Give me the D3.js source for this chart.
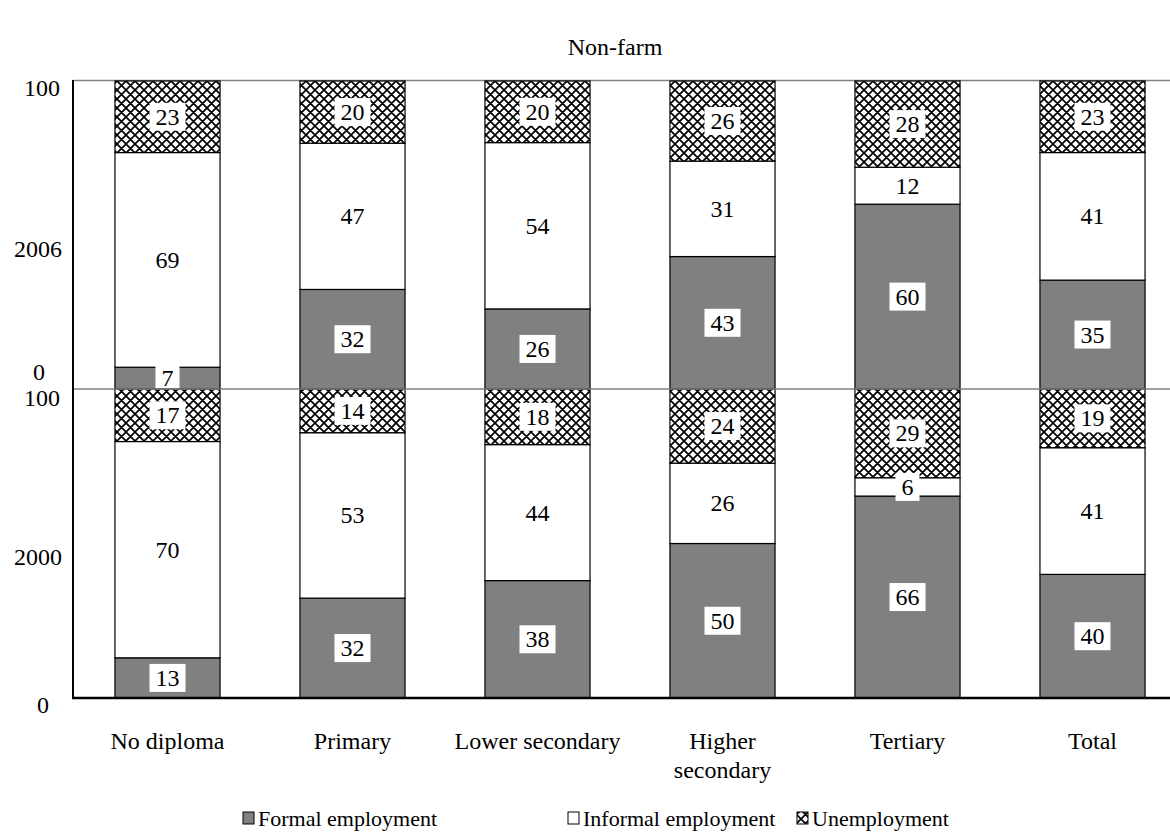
<!DOCTYPE html>
<html><head><meta charset="utf-8">
<script src="https://cdn.jsdelivr.net/npm/d3@7"></script>
<style>body{margin:0;background:#fff}svg{display:block}svg text{font-family:"Liberation Serif","Tinos","DejaVu Serif","Times New Roman",serif}</style>
</head><body><svg id="c" width="1170" height="832"></svg>
<script>
const categories = ["No diploma","Primary","Lower secondary","Higher secondary","Tertiary","Total"];
const years = ["2006","2000"];
const formal2006 = [7,32,26,43,60,35];
const informal2006 = [69,47,54,31,12,41];
const unemp2006 = [23,20,20,26,28,23];
const formal2000 = [13,32,38,50,66,40];
const informal2000 = [70,53,44,26,6,41];
const unemp2000 = [17,14,18,24,29,19];
const seriesNames = ["Formal employment","Informal employment","Unemployment"];
const yTicks = ["100","0"];

const FS = 24;
const svg = d3.select("#c");
const defs = svg.append("defs");
const pat = defs.append("pattern").attr("id","hatch").attr("patternUnits","userSpaceOnUse")
  .attr("width",9).attr("height",9);
pat.append("rect").attr("width",9).attr("height",9).attr("fill","#fff");
pat.append("path").attr("d","M-1,1 L1,-1 M0,9 L9,0 M8,10 L10,8 M-1,8 L1,10 M0,0 L9,9 M8,-1 L10,1")
  .attr("stroke","#000").attr("stroke-width",1.7);

const x = d3.scaleBand().domain(categories).range([75,1185]).paddingInner(0.432).paddingOuter(0.216);
const panels = [
  {year:years[0], data:[formal2006,informal2006,unemp2006], y:d3.scaleLinear().domain([0,100]).range([389,81])},
  {year:years[1], data:[formal2000,informal2000,unemp2000], y:d3.scaleLinear().domain([0,100]).range([698,389])}
];
const fills = ["#808080","#ffffff","url(#hatch)"];

svg.append("line").attr("x1",73).attr("x2",1170).attr("y1",80.5).attr("y2",80.5).attr("stroke","#808080").attr("stroke-width",1.5);

panels.forEach((p,pi)=>{
  const rows = categories.map((c,i)=>{
    const vals = p.data.map(s=>s[i]);
    const tot = d3.sum(vals);
    let acc=0;
    return vals.map((v,k)=>{const y0=acc/tot*100; acc+=v; return {c,k,v,y0,y1:acc/tot*100};});
  });
  const g = svg.append("g");
  rows.forEach(r=>{
    g.selectAll(null).data(r).enter().append("rect")
      .attr("x",d=>x(d.c)).attr("width",x.bandwidth())
      .attr("y",d=>p.y(d.y1)).attr("height",d=>p.y(d.y0)-p.y(d.y1))
      .attr("fill",d=>fills[d.k]).attr("stroke","#000").attr("stroke-width",1.2);
  });
  rows.forEach(r=>{
    r.forEach(d=>{
      const cx = x(d.c)+x.bandwidth()/2;
      const cy = (p.y(d.y0)+p.y(d.y1))/2;
      const t = g.append("text").attr("x",cx).attr("y",cy+8).attr("text-anchor","middle")
        .attr("font-size",FS).text(d.v);
      const bb = t.node().getBBox();
      g.insert("rect", function(){return t.node();}).attr("x",bb.x-6).attr("y",cy-14).attr("width",bb.width+12).attr("height",28).attr("fill","#fff");
    });
  });
  const yl = svg.append("g").attr("font-size",FS).attr("text-anchor","middle");
  yl.append("text").attr("x",42).attr("y",p.y(100)+(pi===0?15:17)).text(yTicks[0]);
  yl.append("text").attr("x",pi===0?39:43).attr("y",p.y(0)+(pi===0?-9:15)).text(yTicks[1]);
  yl.append("text").attr("x",38).attr("y",(p.y(0)+p.y(100))/2+(pi===0?22:21)).text(p.year);
});

svg.append("line").attr("x1",73).attr("x2",1170).attr("y1",389).attr("y2",389).attr("stroke","#808080").attr("stroke-width",1.5);
svg.append("line").attr("x1",73).attr("x2",73).attr("y1",80).attr("y2",699).attr("stroke","#000").attr("stroke-width",2);
svg.append("line").attr("x1",72).attr("x2",1170).attr("y1",698).attr("y2",698).attr("stroke","#000").attr("stroke-width",2.5);

const xl = svg.append("g").attr("font-size",FS).attr("text-anchor","middle");
categories.forEach(c=>{
  const words = c==="Higher secondary" ? ["Higher","secondary"] : [c];
  words.forEach((w,i)=>{
    xl.append("text").attr("x",x(c)+x.bandwidth()/2).attr("y",749+i*29).text(w);
  });
});

svg.append("text").attr("x",615).attr("y",55).attr("text-anchor","middle").attr("font-size",FS).text("Non-farm");

const legX = [243,568,797];
seriesNames.forEach((n,i)=>{
  svg.append("rect").attr("x",legX[i]).attr("y",812).attr("width",11).attr("height",12).attr("fill",fills[i]).attr("stroke","#000").attr("stroke-width",1);
  svg.append("text").attr("x",legX[i]+15).attr("y",826).attr("font-size",22).text(n);
});
</script></body></html>
